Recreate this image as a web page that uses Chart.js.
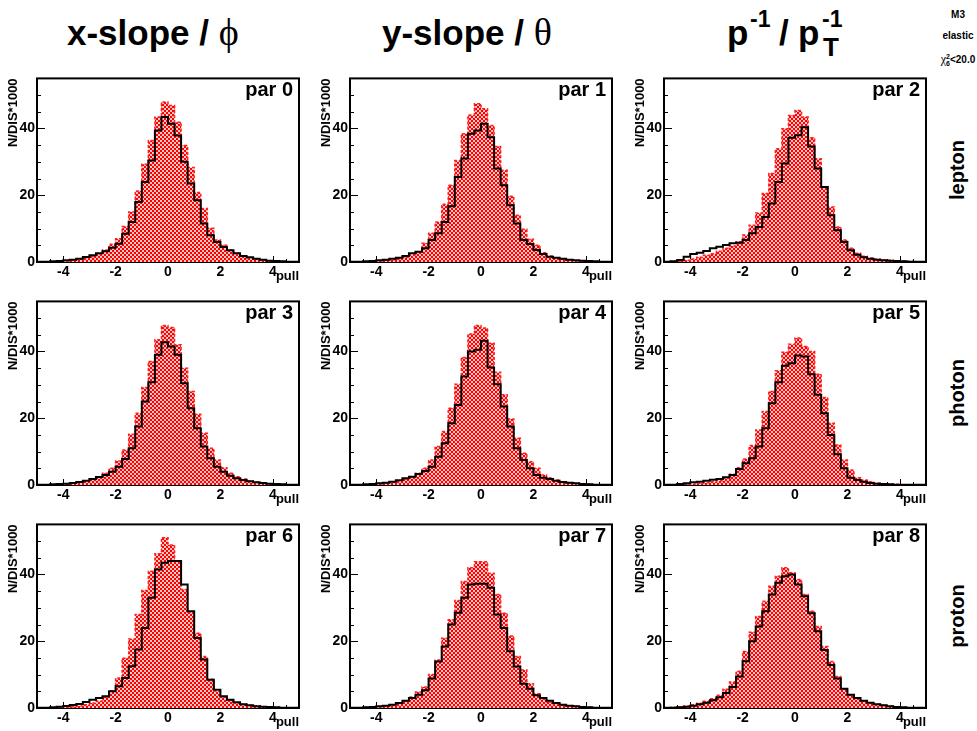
<!DOCTYPE html>
<html>
<head>
<meta charset="utf-8">
<script src="https://cdn.jsdelivr.net/npm/chart.js@4.4.1/dist/chart.umd.min.js"></script>
<style>
  body { margin: 0; background: #fff; width: 977px; height: 731px; position: relative; overflow: hidden;
         font-family: "Liberation Sans", Arial, sans-serif; }
  canvas { position: absolute; }
  .ttl { position: absolute; top: 10px; font-weight: bold; font-size: 35px; line-height: 44px; white-space: nowrap; }
  .ttl .sym { font-family: "Liberation Serif", serif; font-weight: normal; font-size: 38px; }
  .pt { position: absolute; font-weight: bold; white-space: nowrap; }
  .pt.big { font-size: 35px; line-height: 35px; top: 15px; }
  .pt.sup { font-size: 23px; line-height: 23px; top: 8px; }
  .pt.sub { font-size: 26px; line-height: 26px; top: 34px; }
  .info { position: absolute; left: 930px; width: 56px; text-align: center; font-weight: bold; font-size: 10px; line-height: 14px; white-space: nowrap; }
  .info .sym { font-family: "Liberation Serif", serif; font-weight: normal; font-size: 12px; }
  .ss2 { display: inline-block; vertical-align: -3px; line-height: 7px; font-size: 7px; }
  .ss2 span { display: block; }
  .row { position: absolute; left: 907px; width: 100px; height: 24px; line-height: 24px; text-align: center;
         font-weight: bold; font-size: 20px; transform: rotate(-90deg); }
</style>
</head>
<body>
<div class="ttl" style="left:67px">x-slope / <span class="sym">ϕ</span></div>
<div class="ttl" style="left:382px">y-slope / <span class="sym">θ</span></div>
<span class="pt big" style="left:727px">p</span>
<span class="pt sup" style="left:750px">-1</span>
<span class="pt big" style="left:779px">/</span>
<span class="pt big" style="left:798px">p</span>
<span class="pt sup" style="left:822px">-1</span>
<span class="pt sub" style="left:823px">T</span>
<div class="info" style="top:8px">M3</div>
<div class="info" style="top:29px">elastic</div>
<div class="info" style="top:52px"><span class="sym">χ</span><span class="ss2"><span>2</span><span>6</span></span>&lt;20.0</div>
<div class="row" style="top:158px">lepton</div>
<div class="row" style="top:381px">photon</div>
<div class="row" style="top:604px">proton</div>

<script>
// binning of every histogram: 40 bins of 0.25 from -5 to 5
const BIN_LOW = -5;
const BIN_WIDTH = 0.25;
const X_MIN = -5, X_MAX = 5;
const Y_MIN = 0, Y_MAX = 55;
const xTickValues = [-4, -2, 0, 2, 4];
const yTickValues = [0, 20, 40];
const parLabels = ['par 0', 'par 1', 'par 2', 'par 3', 'par 4', 'par 5', 'par 6', 'par 7', 'par 8'];

// red hatched histograms (N/DIS*1000 per bin)
const fillPar0 = [0.1, 0.1, 0.1, 0.2, 0.3, 0.5, 0.8, 1.2, 1.8, 2.5, 3.6, 5.3, 7.0, 10.6, 15.0, 21.3, 29.3, 36.4, 43.4, 47.9,
                  46.9, 41.9, 34.9, 28.3, 20.8, 16.0, 10.1, 6.6, 5.0, 3.6, 2.6, 1.8, 1.2, 0.8, 0.5, 0.3, 0.2, 0.1, 0.1, 0.1];
const fillPar1 = [0.1, 0.1, 0.1, 0.2, 0.3, 0.5, 0.7, 1.0, 1.4, 2.2, 3.1, 5.6, 8.6, 12.0, 17.3, 23.0, 30.4, 38.4, 44.0, 47.4,
                  45.9, 40.9, 34.6, 27.5, 19.7, 14.0, 9.8, 6.8, 5.0, 2.8, 1.8, 1.2, 0.9, 0.6, 0.4, 0.3, 0.2, 0.1, 0.1, 0.1];
const fillPar2 = [0.1, 0.2, 0.3, 0.5, 0.9, 1.4, 2.0, 2.5, 3.2, 4.1, 4.8, 6.1, 8.1, 11.0, 14.7, 20.5, 26.5, 33.9, 39.9, 43.9,
                  45.4, 43.4, 37.2, 30.9, 22.5, 16.5, 10.5, 6.6, 4.1, 2.6, 1.7, 1.2, 0.9, 0.6, 0.5, 0.4, 0.3, 0.2, 0.1, 0.1];
const fillPar3 = [0.1, 0.1, 0.1, 0.2, 0.3, 0.5, 0.8, 1.2, 1.7, 2.5, 3.5, 5.0, 7.2, 10.5, 15.2, 21.5, 29.2, 37.0, 43.5, 47.8,
                  47.2, 42.0, 35.0, 28.0, 21.2, 15.5, 11.0, 7.5, 5.2, 3.5, 2.5, 1.8, 1.2, 0.8, 0.6, 0.4, 0.3, 0.2, 0.1, 0.1];
const fillPar4 = [0.1, 0.1, 0.1, 0.2, 0.3, 0.5, 0.8, 1.2, 1.8, 2.5, 3.5, 5.0, 7.5, 11.5, 16.0, 23.0, 30.2, 38.2, 45.2, 47.8,
                  47.0, 42.5, 33.8, 27.0, 19.8, 14.0, 9.5, 7.0, 5.0, 3.0, 2.2, 1.5, 1.0, 0.7, 0.5, 0.3, 0.2, 0.1, 0.1, 0.1];
const fillPar5 = [0.05, 0.1, 0.1, 0.2, 0.3, 0.5, 0.7, 1.0, 1.3, 2.0, 3.2, 5.2, 7.8, 11.8, 16.5, 22.0, 28.0, 34.2, 39.8, 42.2,
                  44.0, 41.5, 40.0, 33.2, 26.2, 18.5, 12.0, 7.5, 4.5, 2.2, 1.5, 1.0, 0.6, 0.4, 0.3, 0.2, 0.1, 0.1, 0.1, 0.05];
const fillPar6 = [0.1, 0.1, 0.1, 0.2, 0.3, 0.4, 0.6, 1.0, 1.5, 2.1, 3.3, 5.2, 9.0, 14.9, 20.7, 28.0, 35.2, 41.0, 46.2, 51.0,
                  48.8, 43.7, 35.5, 28.7, 22.4, 15.4, 8.6, 5.0, 3.3, 2.3, 1.6, 1.1, 0.8, 0.6, 0.4, 0.3, 0.2, 0.1, 0.1, 0.1];
const fillPar7 = [0.1, 0.1, 0.2, 0.3, 0.4, 0.6, 1.0, 1.5, 2.2, 3.3, 4.8, 6.3, 10.0, 14.4, 20.9, 26.4, 32.2, 37.9, 42.0, 43.8,
                  43.8, 40.4, 34.0, 28.4, 21.6, 15.4, 11.4, 7.3, 4.3, 2.8, 1.8, 1.3, 1.0, 0.7, 0.5, 0.3, 0.2, 0.1, 0.1, 0.1];
const fillPar8 = [0.1, 0.2, 0.3, 0.6, 1.0, 1.4, 2.0, 2.8, 3.8, 5.6, 7.8, 11.0, 16.9, 22.7, 27.4, 32.0, 36.5, 39.5, 42.0, 40.5,
                  38.5, 34.0, 29.0, 24.4, 18.4, 13.9, 9.4, 5.8, 4.0, 3.0, 2.2, 1.6, 1.1, 0.8, 0.5, 0.3, 0.2, 0.1, 0.1, 0.1];

// black line histograms
const linePar0 = [0.05, 0.1, 0.2, 0.3, 0.5, 0.7, 1.0, 1.5, 2.0, 2.6, 3.2, 4.3, 5.5, 8.5, 12.0, 18.0, 24.0, 30.4, 39.4, 43.4,
                  41.4, 37.9, 30.0, 23.5, 18.5, 11.5, 8.0, 6.0, 4.5, 3.5, 2.6, 1.8, 1.4, 1.0, 0.7, 0.4, 0.3, 0.2, 0.1, 0.05];
const linePar1 = [0.05, 0.1, 0.2, 0.3, 0.5, 0.7, 1.0, 1.3, 1.8, 2.6, 3.1, 4.1, 6.6, 8.6, 12.0, 16.7, 25.5, 31.0, 38.4, 39.4,
                  41.4, 37.4, 28.0, 23.0, 17.0, 11.5, 6.6, 5.4, 3.6, 2.4, 1.6, 1.3, 1.0, 0.7, 0.5, 0.4, 0.3, 0.2, 0.1, 0.05];
const linePar2 = [0.1, 0.2, 0.6, 1.6, 2.4, 2.8, 3.3, 4.1, 4.6, 5.1, 5.6, 5.8, 6.6, 8.6, 10.5, 13.5, 17.5, 24.0, 29.5, 37.2,
                  38.0, 40.4, 34.6, 28.0, 22.5, 14.0, 9.5, 6.0, 3.5, 2.2, 1.4, 1.0, 0.7, 0.5, 0.4, 0.3, 0.2, 0.1, 0.1, 0.05];
const linePar3 = [0.05, 0.1, 0.2, 0.3, 0.4, 0.6, 0.9, 1.3, 1.8, 2.4, 3.0, 4.0, 5.5, 7.8, 11.0, 17.5, 25.0, 30.8, 39.0, 42.8,
                  41.5, 39.0, 30.5, 23.0, 17.0, 11.5, 8.0, 5.5, 4.0, 2.8, 2.0, 1.5, 1.1, 0.8, 0.6, 0.4, 0.3, 0.2, 0.1, 0.05];
const linePar4 = [0.05, 0.1, 0.2, 0.3, 0.5, 0.7, 1.0, 1.4, 2.0, 2.5, 3.3, 4.2, 5.5, 8.5, 12.5, 18.5, 24.0, 32.5, 40.0, 40.5,
                  43.2, 35.2, 30.2, 23.5, 17.5, 11.0, 7.5, 5.0, 3.0, 2.2, 1.8, 1.3, 0.9, 0.7, 0.5, 0.3, 0.2, 0.1, 0.1, 0.05];
const linePar5 = [0.05, 0.1, 0.3, 0.5, 0.8, 1.0, 1.3, 1.6, 1.8, 2.3, 3.0, 4.8, 6.5, 8.0, 11.5, 17.0, 24.5, 30.8, 35.7, 36.5,
                  38.8, 38.5, 33.2, 27.0, 21.5, 15.0, 9.2, 5.0, 2.2, 1.5, 1.0, 0.6, 0.4, 0.3, 0.2, 0.1, 0.1, 0.1, 0.05, 0.05];
const linePar6 = [0.05, 0.1, 0.2, 0.4, 0.6, 0.9, 1.2, 1.8, 2.5, 3.0, 3.5, 5.0, 6.5, 9.0, 12.5, 17.5, 24.0, 33.0, 41.5, 43.5,
                  44.0, 44.0, 37.0, 29.0, 21.0, 14.5, 8.5, 5.5, 3.5, 2.5, 1.7, 1.1, 0.8, 0.5, 0.4, 0.3, 0.2, 0.1, 0.1, 0.05];
const linePar7 = [0.05, 0.1, 0.2, 0.3, 0.5, 0.7, 1.0, 1.5, 2.2, 3.0, 4.0, 5.3, 8.8, 13.9, 18.4, 25.0, 28.5, 33.0, 37.0, 37.2,
                  37.2, 36.0, 28.0, 24.0, 17.0, 12.4, 7.3, 5.8, 3.8, 3.0, 2.2, 1.5, 1.0, 0.7, 0.5, 0.3, 0.2, 0.1, 0.1, 0.05];
const linePar8 = [0.05, 0.1, 0.2, 0.4, 0.7, 1.1, 1.6, 2.3, 3.2, 4.5, 6.3, 9.4, 14.0, 20.0, 24.4, 29.0, 34.0, 37.5, 39.5, 40.0,
                  37.0, 33.5, 28.4, 23.0, 17.4, 12.9, 8.8, 5.8, 4.0, 3.0, 2.2, 1.6, 1.1, 0.8, 0.5, 0.3, 0.2, 0.1, 0.1, 0.05];

const fillSets = [fillPar0, fillPar1, fillPar2, fillPar3, fillPar4, fillPar5, fillPar6, fillPar7, fillPar8];
const lineSets = [linePar0, linePar1, linePar2, linePar3, linePar4, linePar5, linePar6, linePar7, linePar8];

// page layout (frame boxes of the 3x3 pads)
const FRAME_LEFT = [37, 350, 664];
const FRAME_TOP = [78, 301, 524];
const FRAME_W = 262, FRAME_H = 184;
const AXIS_W = 37, TOP_PAD = 10, RIGHT_PAD = 8, X_AXIS_H = 22;

Chart.defaults.font.family = '"Liberation Sans", Arial, sans-serif';
Chart.defaults.color = '#000';

function checkerPattern() {
    const c = document.createElement('canvas');
    c.width = 4;
    c.height = 4;
    const g = c.getContext('2d');
    g.fillStyle = '#ff0000';
    g.fillRect(0, 0, 4, 4);
    g.fillStyle = '#ffc4c4';
    g.fillRect(0, 0, 2, 2);
    g.fillRect(2, 2, 2, 2);
    return g.createPattern(c, 'repeat');
}

// histogram as step points on the bin edges
function stepPoints(vals) {
    const pts = vals.map((v, i) => ({ x: BIN_LOW + i * BIN_WIDTH, y: v }));
    pts.push({ x: BIN_LOW + vals.length * BIN_WIDTH, y: vals[vals.length - 1] });
    return pts;
}

// ROOT style frame, inner ticks and pad label
const rootPad = {
    id: 'rootPad',
    beforeDatasetsDraw(chart) {
        const { ctx, chartArea: a, scales: { x, y } } = chart;
        ctx.save();
        ctx.strokeStyle = '#000';
        ctx.lineWidth = 2;
        ctx.strokeRect(a.left, a.top, a.right - a.left, a.bottom - a.top);
        ctx.lineWidth = 1;
        ctx.beginPath();
        for (let v = Y_MIN; v <= Y_MAX; v += 5) {
            const py = Math.round(y.getPixelForValue(v)) + 0.5;
            const len = v % 20 === 0 ? 8 : 4;
            ctx.moveTo(a.left, py);
            ctx.lineTo(a.left + len, py);
        }
        for (let v = X_MIN + 0.5; v < X_MAX; v += 0.5) {
            const px = Math.round(x.getPixelForValue(v)) + 0.5;
            const len = xTickValues.includes(v) ? 6 : 3;
            ctx.moveTo(px, a.bottom);
            ctx.lineTo(px, a.bottom - len);
        }
        ctx.stroke();
        ctx.fillStyle = '#000';
        ctx.font = 'bold 20px "Liberation Sans", Arial, sans-serif';
        ctx.textAlign = 'right';
        ctx.textBaseline = 'alphabetic';
        ctx.fillText(chart.options.plugins.rootPad.label, a.right - 6, a.top + 18);
        ctx.restore();
    }
};

const pattern = checkerPattern();

function createPad(idx) {
    const col = idx % 3;
    const row = Math.floor(idx / 3);
    const canvas = document.createElement('canvas');
    canvas.width = AXIS_W + FRAME_W + RIGHT_PAD;
    canvas.height = TOP_PAD + FRAME_H + X_AXIS_H;
    canvas.style.left = (FRAME_LEFT[col] - AXIS_W) + 'px';
    canvas.style.top = (FRAME_TOP[row] - TOP_PAD) + 'px';
    document.body.appendChild(canvas);

    const config = {
        type: 'line',
        data: {
            datasets: [{
                label: 'line',
                data: stepPoints(lineSets[idx]),
                stepped: 'before',
                borderColor: '#000',
                borderWidth: 2,
                pointRadius: 0,
                fill: false,
                order: 0
            }, {
                label: 'fill',
                data: stepPoints(fillSets[idx]),
                stepped: 'before',
                borderColor: '#ff2020',
                borderWidth: 1.5,
                borderDash: [3, 2],
                backgroundColor: pattern,
                pointRadius: 0,
                fill: 'origin',
                order: 1
            }]
        },
        options: {
            responsive: false,
            animation: false,
            devicePixelRatio: 1,
            events: [],
            layout: { padding: { left: 0, right: RIGHT_PAD, top: TOP_PAD, bottom: 0 } },
            plugins: {
                legend: { display: false },
                tooltip: { enabled: false },
                rootPad: { label: parLabels[idx] }
            },
            scales: {
                x: {
                    type: 'linear',
                    min: X_MIN,
                    max: X_MAX,
                    afterBuildTicks: s => { s.ticks = xTickValues.map(v => ({ value: v })); },
                    afterFit: s => { s.height = X_AXIS_H; },
                    grid: { display: false, drawTicks: false },
                    border: { display: false },
                    ticks: { autoSkip: false, maxRotation: 0, padding: 2, font: { size: 14, weight: 'bold' } },
                    title: { display: true, text: 'pull', align: 'end', padding: { top: 0, bottom: 0 },
                             font: { size: 13, weight: 'bold' } }
                },
                y: {
                    type: 'linear',
                    min: Y_MIN,
                    max: Y_MAX,
                    afterBuildTicks: s => { s.ticks = yTickValues.map(v => ({ value: v })); },
                    afterFit: s => { s.width = AXIS_W; },
                    grid: { display: false, drawTicks: false },
                    border: { display: false },
                    ticks: { autoSkip: false, padding: 2, font: { size: 14, weight: 'bold' } },
                    title: { display: true, text: 'N/DIS*1000', align: 'end', padding: { top: 6, bottom: 0 },
                             font: { size: 13, weight: 'bold' } }
                }
            }
        },
        plugins: [rootPad]
    };
    return new Chart(canvas, config);
}

for (let i = 0; i < 9; i++) {
    createPad(i);
}
</script>
</body>
</html>
